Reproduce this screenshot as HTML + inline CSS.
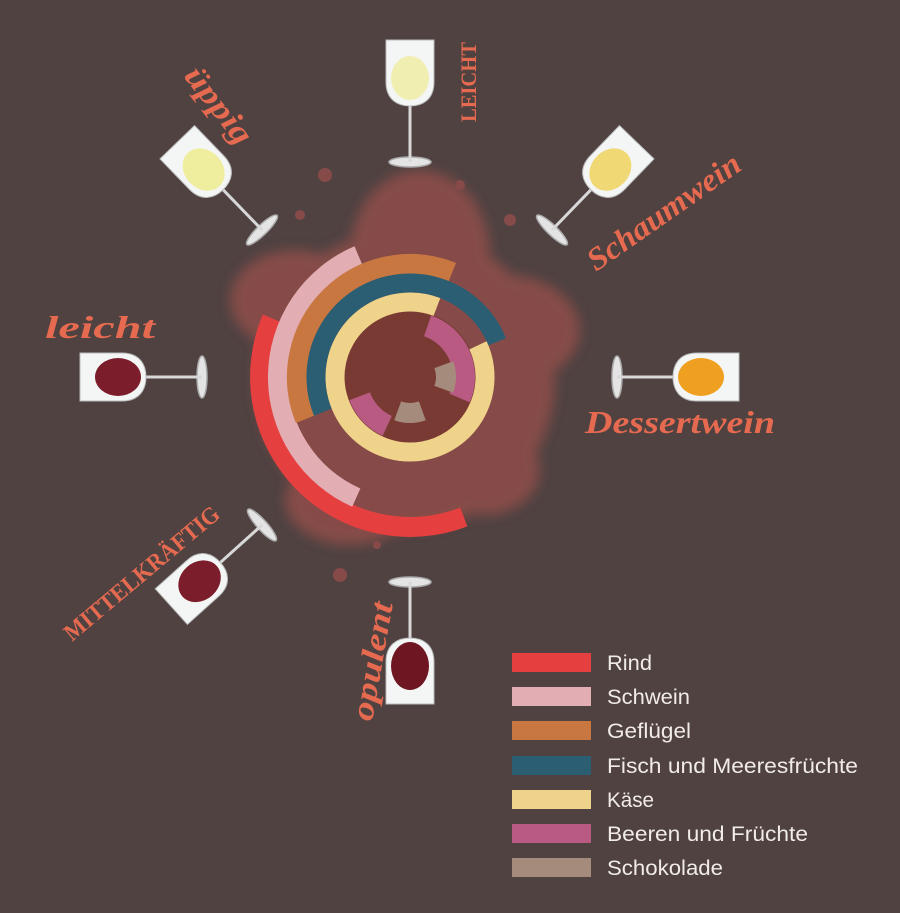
<!DOCTYPE html>
<html><head><meta charset="utf-8"><style>
html,body{margin:0;padding:0;background:#4f4241;}
svg{display:block}
.lg{font-family:"Liberation Sans",sans-serif;font-size:21px;fill:#f1ece8}
.sc{font-family:"Liberation Serif",serif;font-style:italic;font-weight:bold;fill:#e66a50}
.cp{font-family:"Liberation Serif",serif;font-weight:bold;fill:#e66a50}
</style></head><body>
<svg width="900" height="913" viewBox="0 0 900 913" xmlns="http://www.w3.org/2000/svg">
<defs>
<filter id="bl" x="-20%" y="-20%" width="140%" height="140%"><feGaussianBlur stdDeviation="6"/></filter>
<g id="glass">
<ellipse cx="0" cy="0" rx="21" ry="5" fill="#e4e4e4" stroke="#aaa" stroke-width="1.5"/>
<line x1="0" y1="0" x2="0" y2="-58" stroke="#d8d8d8" stroke-width="3"/>
<path d="M-24,-122 L24,-122 L24,-80 C24,-62 12,-56 0,-56 C-12,-56 -24,-62 -24,-80 Z" fill="#f4f6f6" stroke="#bbb" stroke-width="1"/>
</g>
</defs>
<rect width="900" height="913" fill="#4f4241"/>
<g fill="#8c4d49" opacity="0.9">
<g filter="url(#bl)">
<circle cx="405" cy="380" r="150"/>
<ellipse cx="420" cy="255" rx="70" ry="85"/>
<ellipse cx="505" cy="330" rx="75" ry="55"/>
<ellipse cx="295" cy="300" rx="65" ry="50"/>
<ellipse cx="350" cy="500" rx="65" ry="45"/>
<ellipse cx="485" cy="470" rx="55" ry="45"/>
</g>
<circle cx="325" cy="175" r="7"/><circle cx="300" cy="215" r="5"/><circle cx="510" cy="220" r="6"/>
<circle cx="340" cy="575" r="7"/><circle cx="377" cy="545" r="4"/><circle cx="560" cy="320" r="5"/>
<circle cx="460" cy="185" r="5"/><circle cx="250" cy="300" r="5"/>
</g>
<circle cx="410" cy="377" r="66" fill="#7a3a34"/>
<g fill="none">
<path d="M463.8,517.0 A150,150 0 0 1 272.0,318.4" stroke="#e5403f" stroke-width="20"/>
<path d="M356.3,497.6 A132,132 0 0 1 358.4,255.5" stroke="#e2adb3" stroke-width="20"/>
<path d="M305.2,419.3 A113,113 0 0 1 452.3,272.2" stroke="#c87740" stroke-width="20"/>
<path d="M322.8,412.2 A94,94 0 0 1 497.2,341.8" stroke="#2b5e72" stroke-width="19"/>
<path d="M478.0,345.3 A75,75 0 1 1 436.9,307.0" stroke="#f0d38a" stroke-width="19"/>
<path d="M427.6,325.9 A54,54 0 0 1 459.7,398.1" stroke="#b85a82" stroke-width="22"/>
<path d="M387.2,425.9 A54,54 0 0 1 359.6,396.3" stroke="#b85a82" stroke-width="22"/>
<path d="M443.8,364.7 A36,36 0 0 1 443.8,389.3" stroke="#a58b7c" stroke-width="20"/>
<path d="M422.3,410.8 A36,36 0 0 1 397.7,410.8" stroke="#a58b7c" stroke-width="20"/>
</g>
<g transform="translate(410,162)"><use href="#glass"/><ellipse cx="0" cy="-84" rx="19" ry="22" fill="#f1eeb2"/></g>
<g transform="translate(262,230) rotate(-44)"><use href="#glass"/><ellipse cx="0" cy="-84" rx="19" ry="23" fill="#efee9e"/></g>
<g transform="translate(552,230) rotate(44)"><use href="#glass"/><ellipse cx="0" cy="-84" rx="19" ry="23" fill="#f0d874"/></g>
<g transform="translate(202,377) rotate(-90)"><use href="#glass"/><ellipse cx="0" cy="-84" rx="19" ry="23" fill="#7b1d2a"/></g>
<g transform="translate(617,377) rotate(90)"><use href="#glass"/><ellipse cx="0" cy="-84" rx="19" ry="23" fill="#f0a020"/></g>
<g transform="translate(262,525) rotate(-132)"><use href="#glass"/><ellipse cx="0" cy="-84" rx="19" ry="23" fill="#7b1d2a"/></g>
<g transform="translate(410,582) rotate(180)"><use href="#glass"/><ellipse cx="0" cy="-84" rx="19" ry="24" fill="#6e1622"/></g>
<text class="sc" font-size="32" textLength="90" lengthAdjust="spacingAndGlyphs" transform="translate(183,76) rotate(52)">üppig</text>
<text class="cp" font-size="22" textLength="80" lengthAdjust="spacingAndGlyphs" transform="translate(476,122) rotate(-90)">LEICHT</text>
<text class="sc" font-size="32" textLength="180" lengthAdjust="spacingAndGlyphs" transform="translate(596,272) rotate(-35)">Schaumwein</text>
<text class="sc" font-size="32" textLength="110" lengthAdjust="spacingAndGlyphs" x="45" y="338">leicht</text>
<text class="sc" font-size="32" textLength="190" lengthAdjust="spacingAndGlyphs" x="585" y="433">Dessertwein</text>
<text class="cp" font-size="24" textLength="195" lengthAdjust="spacingAndGlyphs" transform="translate(72,642) rotate(-40)">MITTELKRÄFTIG</text>
<text class="sc" font-size="32" textLength="120" lengthAdjust="spacingAndGlyphs" transform="translate(372,722) rotate(-80)">opulent</text>
<rect x="512" y="653" width="79" height="19" fill="#e5403f"/>
<rect x="512" y="687" width="79" height="19" fill="#e2adb3"/>
<rect x="512" y="721" width="79" height="19" fill="#c87740"/>
<rect x="512" y="756" width="79" height="19" fill="#2b5e72"/>
<rect x="512" y="790" width="79" height="19" fill="#f0d38a"/>
<rect x="512" y="824" width="79" height="19" fill="#b85a82"/>
<rect x="512" y="858" width="79" height="19" fill="#a58b7c"/>
<text class="lg" x="607" y="670" textLength="45" lengthAdjust="spacingAndGlyphs">Rind</text>
<text class="lg" x="607" y="704" textLength="83" lengthAdjust="spacingAndGlyphs">Schwein</text>
<text class="lg" x="607" y="738" textLength="84" lengthAdjust="spacingAndGlyphs">Geflügel</text>
<text class="lg" x="607" y="773" textLength="251" lengthAdjust="spacingAndGlyphs">Fisch und Meeresfrüchte</text>
<text class="lg" x="607" y="807" textLength="47" lengthAdjust="spacingAndGlyphs">Käse</text>
<text class="lg" x="607" y="841" textLength="201" lengthAdjust="spacingAndGlyphs">Beeren und Früchte</text>
<text class="lg" x="607" y="875" textLength="116" lengthAdjust="spacingAndGlyphs">Schokolade</text>
</svg>
</body></html>
